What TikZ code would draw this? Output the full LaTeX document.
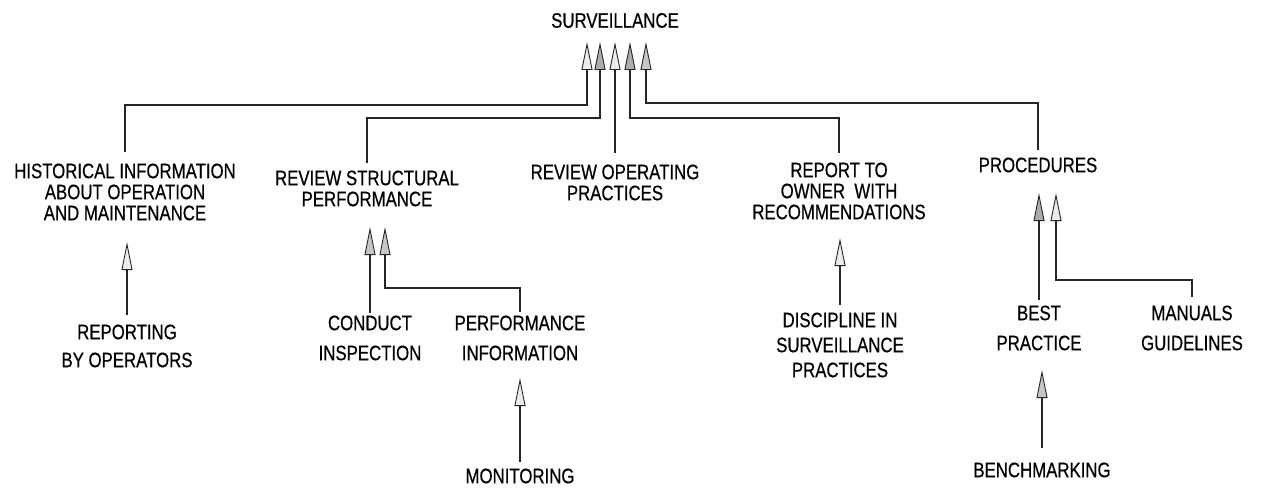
\documentclass[tikz,border=0pt]{standalone}
\usepackage{fontspec}
\newfontfamily\plotfont[FakeStretch=0.8,FakeBold=0.5]{Liberation Sans}
\usetikzlibrary{arrows.meta}

\begin{document}
\begin{tikzpicture}[x=1pt,y=-1pt,
  lbl/.style={font=\plotfont\fontsize{21}{21}\selectfont, inner sep=0pt, align=center},
  link/.style={line width=2.3pt, draw=black!85},
  headlight/.style={-{Triangle[length=28pt,width=11pt,line width=0.9pt,fill=gray!15]}},
  headmid/.style={-{Triangle[length=28pt,width=11pt,line width=0.9pt,fill=gray!45]}},
  headdark/.style={-{Triangle[length=28pt,width=11pt,line width=0.9pt,fill=gray!65]}}
]
\fill[white] (0,0) rectangle (1261,489);
\useasboundingbox (0,0) rectangle (1261,489);

% labels
\node[lbl] (surv)    at (615,20.5) {SURVEILLANCE};
\node[lbl] (hist)    at (125,192)  {HISTORICAL INFORMATION\\ABOUT OPERATION\\AND MAINTENANCE};
\node[lbl] (revst)   at (367,188.5){REVIEW STRUCTURAL\\PERFORMANCE};
\node[lbl] (revop)   at (615,182.5){REVIEW OPERATING\\PRACTICES};
\node[lbl] (report)  at (839,191)  {REPORT TO\\OWNER\ \ WITH\\RECOMMENDATIONS};
\node[lbl] (proc)    at (1038,165) {PROCEDURES};
\node[lbl] (rep)     at (127,346)  {REPORTING\\[7pt]BY OPERATORS};
\node[lbl] (conduct) at (370,338)  {CONDUCT\\[9pt]INSPECTION};
\node[lbl] (perf)    at (520,338)  {PERFORMANCE\\[9pt]INFORMATION};
\node[lbl] (mon)     at (520,476)  {MONITORING};
\node[lbl] (disc)    at (840,345)  {DISCIPLINE IN\\[4pt]SURVEILLANCE\\[4pt]PRACTICES};
\node[lbl] (best)    at (1039,328) {BEST\\[9pt]PRACTICE};
\node[lbl] (manuals) at (1192,328) {MANUALS\\[9pt]GUIDELINES};
\node[lbl] (bench)   at (1042,470) {BENCHMARKING};

% arrow tips under SURVEILLANCE and bends of the feeder lines
\coordinate (t1) at (587,42);
\coordinate (t2) at (600,42);
\coordinate (t3) at (615,42);
\coordinate (t4) at (630,42);
\coordinate (t5) at (646,42);
\coordinate (b1) at (587,105);
\coordinate (b2) at (600,118);
\coordinate (b4) at (630,118);
\coordinate (b5) at (646,103);
\coordinate (k2) at (385,288);
\coordinate (k3) at (1056,280);

% feeders into SURVEILLANCE
\draw[link,headlight,shorten <=11.5pt] (hist.north)   |- (b1) -- (t1);
\draw[link,headdark, shorten <=7.5pt]  (revst.north)  |- (b2) -- (t2);
\draw[link,headlight,shorten <=11.5pt] (revop.north)  -- (t3);
\draw[link,headdark, shorten <=9.5pt]  (report.north) |- (b4) -- (t4);
\draw[link,headmid,  shorten <=7.5pt]  (proc.north)   |- (b5) -- (t5);

% lower level
\draw[link,headlight,shorten <=9.5pt,shorten >=21.5pt] (rep.north) -- (rep.north |- hist.south);
\draw[link,headmid,line width=2.9pt,shorten <=2.5pt,shorten >=20.5pt] (conduct.north) -- (conduct.north |- revst.south);
\draw[link,headmid,shorten <=3.5pt,shorten >=20.5pt] (perf.north) |- (k2) -- (k2 |- revst.south);
\draw[link,headlight,line width=2.9pt,shorten <=6.5pt,shorten >=17.5pt] (mon.north) -- (perf.south);
\draw[link,headlight,shorten <=7.5pt,shorten >=18.5pt] (disc.north) -- (disc.north |- report.south);
\draw[link,headdark,shorten <=5.5pt,shorten >=20.5pt] (best.north) -- (best.north |- proc.south);
\draw[link,headlight,shorten <=8.5pt,shorten >=20.5pt] (manuals.north) |- (k3) -- (k3 |- proc.south);
\draw[link,headmid,shorten <=14.5pt,shorten >=19.5pt] (bench.north) -- (bench.north |- best.south);
\end{tikzpicture}
\end{document}
